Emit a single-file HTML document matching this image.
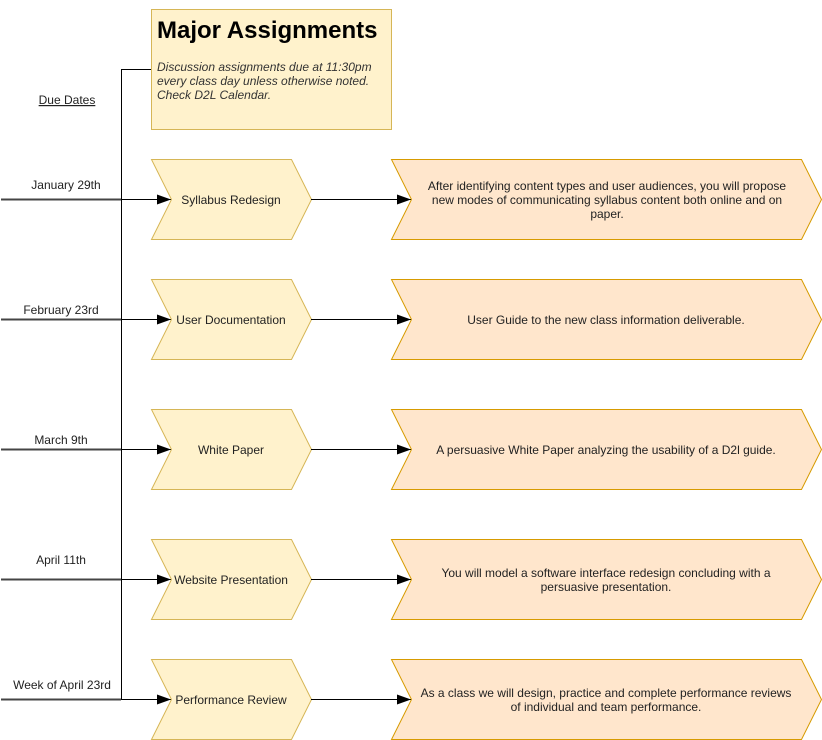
<!DOCTYPE html>
<html><head><meta charset="utf-8"><style>
html,body{margin:0;padding:0;background:#fff;}
svg{display:block;font-family:"Liberation Sans",Arial,sans-serif;}
</style></head><body>
<svg width="822" height="740" viewBox="0 0 822 740" xmlns="http://www.w3.org/2000/svg">
<defs><marker id="a" markerWidth="14" markerHeight="10" refX="14" refY="5" orient="auto" markerUnits="userSpaceOnUse"><path d="M0,0 L14,5 L0,10 Z" fill="#000"/></marker></defs>
<rect x="151.5" y="9.5" width="240" height="120" fill="#fff2cc" stroke="#d6b656"/>
<text x="157" y="38" font-size="24" font-weight="bold" fill="#000">Major Assignments</text>
<g font-size="12" font-style="italic" fill="#333">
<text x="157" y="71">Discussion assignments due at 11:30pm</text>
<text x="157" y="85">every class day unless otherwise noted.</text>
<text x="157" y="99">Check D2L Calendar.</text>
</g>
<text x="67" y="104" font-size="12" text-anchor="middle" text-decoration="underline" fill="#222">Due Dates</text>
<path d="M151,69.5 H121.5 V699" fill="none" stroke="#000" stroke-width="1"/>

<g id="rows" font-size="12" fill="#222">
<!-- row 1 -->
<line x1="1" y1="199.5" x2="121" y2="199.5" stroke="#444" stroke-width="2"/>
<line x1="121" y1="199.5" x2="171" y2="199.5" stroke="#000" marker-end="url(#a)"/>
<text x="66" y="189" text-anchor="middle">January 29th</text>
<path d="M151.5,159.5 H291.5 L311.5,199.5 L291.5,239.5 H151.5 L171.5,199.5 Z" fill="#fff2cc" stroke="#d6b656"/>
<text x="231" y="204" text-anchor="middle">Syllabus Redesign</text>
<line x1="311" y1="199.5" x2="411" y2="199.5" stroke="#000" marker-end="url(#a)"/>
<path d="M391.5,159.5 H801.5 L821.5,199.5 L801.5,239.5 H391.5 L411.5,199.5 Z" fill="#ffe6cc" stroke="#d79b00"/>
<text x="607" y="190" text-anchor="middle">After identifying content types and user audiences, you will propose</text>
<text x="607" y="204" text-anchor="middle">new modes of communicating syllabus content both online and on</text>
<text x="607" y="218" text-anchor="middle">paper.</text>

<!-- row 2 -->
<line x1="1" y1="319.5" x2="121" y2="319.5" stroke="#444" stroke-width="2"/>
<line x1="121" y1="319.5" x2="171" y2="319.5" stroke="#000" marker-end="url(#a)"/>
<text x="61" y="314" text-anchor="middle">February 23rd</text>
<path d="M151.5,279.5 H291.5 L311.5,319.5 L291.5,359.5 H151.5 L171.5,319.5 Z" fill="#fff2cc" stroke="#d6b656"/>
<text x="231" y="324" text-anchor="middle">User Documentation</text>
<line x1="311" y1="319.5" x2="411" y2="319.5" stroke="#000" marker-end="url(#a)"/>
<path d="M391.5,279.5 H801.5 L821.5,319.5 L801.5,359.5 H391.5 L411.5,319.5 Z" fill="#ffe6cc" stroke="#d79b00"/>
<text x="606" y="324" text-anchor="middle">User Guide to the new class information deliverable.</text>

<!-- row 3 -->
<line x1="1" y1="449.5" x2="121" y2="449.5" stroke="#444" stroke-width="2"/>
<line x1="121" y1="449.5" x2="171" y2="449.5" stroke="#000" marker-end="url(#a)"/>
<text x="61" y="444" text-anchor="middle">March 9th</text>
<path d="M151.5,409.5 H291.5 L311.5,449.5 L291.5,489.5 H151.5 L171.5,449.5 Z" fill="#fff2cc" stroke="#d6b656"/>
<text x="231" y="454" text-anchor="middle">White Paper</text>
<line x1="311" y1="449.5" x2="411" y2="449.5" stroke="#000" marker-end="url(#a)"/>
<path d="M391.5,409.5 H801.5 L821.5,449.5 L801.5,489.5 H391.5 L411.5,449.5 Z" fill="#ffe6cc" stroke="#d79b00"/>
<text x="606" y="454" text-anchor="middle">A persuasive White Paper analyzing the usability of a D2l guide.</text>

<!-- row 4 -->
<line x1="1" y1="579.5" x2="121" y2="579.5" stroke="#444" stroke-width="2"/>
<line x1="121" y1="579.5" x2="171" y2="579.5" stroke="#000" marker-end="url(#a)"/>
<text x="61" y="564" text-anchor="middle">April 11th</text>
<path d="M151.5,539.5 H291.5 L311.5,579.5 L291.5,619.5 H151.5 L171.5,579.5 Z" fill="#fff2cc" stroke="#d6b656"/>
<text x="231" y="584" text-anchor="middle">Website Presentation</text>
<line x1="311" y1="579.5" x2="411" y2="579.5" stroke="#000" marker-end="url(#a)"/>
<path d="M391.5,539.5 H801.5 L821.5,579.5 L801.5,619.5 H391.5 L411.5,579.5 Z" fill="#ffe6cc" stroke="#d79b00"/>
<text x="606" y="577" text-anchor="middle">You will model a software interface redesign concluding with a</text>
<text x="606" y="591" text-anchor="middle">persuasive presentation.</text>

<!-- row 5 -->
<line x1="1" y1="699.5" x2="121" y2="699.5" stroke="#444" stroke-width="2"/>
<line x1="121" y1="699.5" x2="171" y2="699.5" stroke="#000" marker-end="url(#a)"/>
<text x="62" y="689" text-anchor="middle">Week of April 23rd</text>
<path d="M151.5,659.5 H291.5 L311.5,699.5 L291.5,739.5 H151.5 L171.5,699.5 Z" fill="#fff2cc" stroke="#d6b656"/>
<text x="231" y="704" text-anchor="middle">Performance Review</text>
<line x1="311" y1="699.5" x2="411" y2="699.5" stroke="#000" marker-end="url(#a)"/>
<path d="M391.5,659.5 H801.5 L821.5,699.5 L801.5,739.5 H391.5 L411.5,699.5 Z" fill="#ffe6cc" stroke="#d79b00"/>
<text x="606" y="697" text-anchor="middle">As a class we will design, practice and complete performance reviews</text>
<text x="606" y="711" text-anchor="middle">of individual and team performance.</text>
</g>
</svg>
</body></html>
